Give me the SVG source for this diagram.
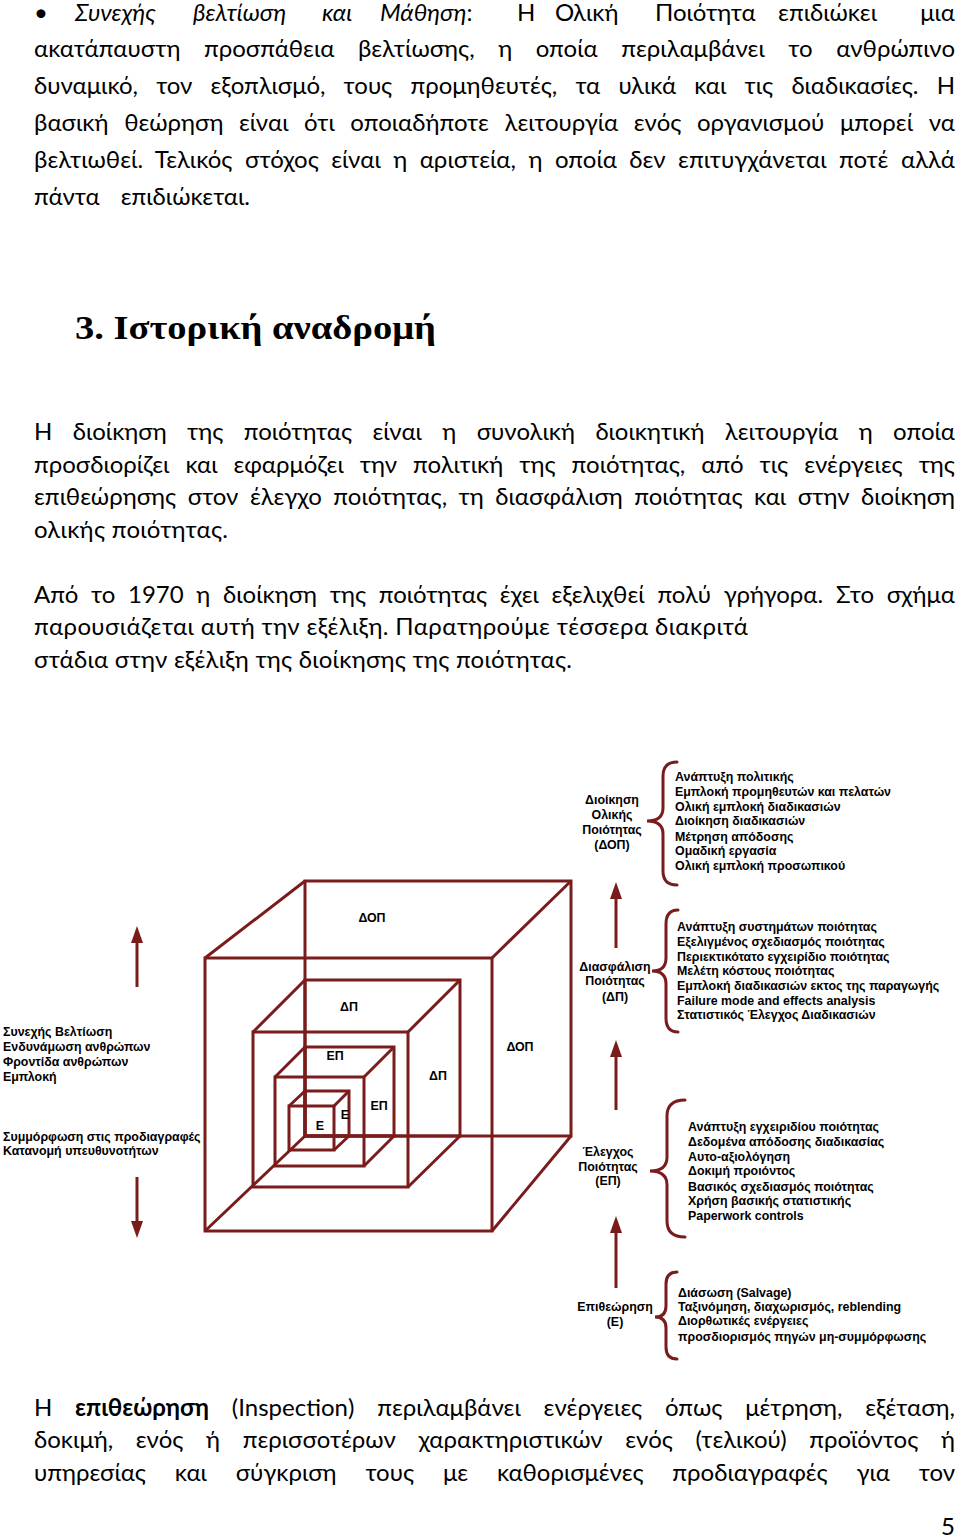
<svg xmlns="http://www.w3.org/2000/svg" width="960" height="1540" viewBox="0 0 960 1540">
<style>
.b{font-family:Lato,"Noto Sans",sans-serif;font-size:24px;fill:#000}
.i{font-style:italic}
.h{font-family:"Liberation Serif",serif;font-weight:bold;font-size:34px;fill:#000}
.d{font-family:"Liberation Sans",Arial,sans-serif;font-weight:bold;font-size:12.4px;fill:#000}
.c{text-anchor:middle}
.ln{fill:none;stroke:#7a1c1c;stroke-width:3;stroke-linejoin:miter}
.br{fill:none;stroke:#7a1c1c;stroke-width:3;stroke-linecap:round}
.ar{stroke:#7a1c1c;stroke-width:3;marker-end:url(#ah)}
</style>
<defs>
<marker id="ah" markerUnits="userSpaceOnUse" markerWidth="18" markerHeight="13" refX="7" refY="6" orient="auto">
<path d="M0,0 L17,6 L0,12 z" fill="#7a1c1c"/>
</marker>
</defs>
<rect width="960" height="1540" fill="#fff"/>

<g id="text-top">
<text class="b" x="34" y="21">•</text>
<text class="b i" x="75" y="21">Συνεχής</text>
<text class="b i" x="193" y="21">βελτίωση</text>
<text class="b i" x="322" y="21">και</text>
<text class="b" x="380" y="21"><tspan class="i">Μάθηση</tspan>:</text>
<text class="b" x="517" y="21">Η</text>
<text class="b" x="555" y="21">Ολική</text>
<text class="b" x="655" y="21">Ποιότητα</text>
<text class="b" x="778" y="21">επιδιώκει</text>
<text class="b" x="955" y="21" text-anchor="end">μια</text>
<text class="b" x="34" y="57" word-spacing="17.4" textLength="921" lengthAdjust="spacing">ακατάπαυστη προσπάθεια βελτίωσης, η οποία περιλαμβάνει το ανθρώπινο</text>
<text class="b" x="34" y="94" word-spacing="12.1" textLength="921" lengthAdjust="spacing">δυναμικό, τον εξοπλισμό, τους προμηθευτές, τα υλικά και τις διαδικασίες. Η</text>
<text class="b" x="34" y="131" word-spacing="9.4" textLength="921" lengthAdjust="spacing">βασική θεώρηση είναι ότι οποιαδήποτε λειτουργία ενός οργανισμού μπορεί να</text>
<text class="b" x="34" y="168" word-spacing="6.3" textLength="921" lengthAdjust="spacing">βελτιωθεί. Τελικός στόχος είναι η αριστεία, η οποία δεν επιτυγχάνεται ποτέ αλλά</text>
<text class="b" x="34" y="205" word-spacing="15" textLength="216" lengthAdjust="spacing">πάντα επιδιώκεται.</text>
</g>

<g id="heading">
<text class="h" x="75" y="339" textLength="361" lengthAdjust="spacingAndGlyphs">3. Ιστορική αναδρομή</text>
</g>

<g id="text-mid">
<text class="b" x="34" y="440" word-spacing="14.3" textLength="921" lengthAdjust="spacing">Η διοίκηση της ποιότητας είναι η συνολική διοικητική λειτουργία η οποία</text>
<text class="b" x="34" y="473" word-spacing="9.9" textLength="921" lengthAdjust="spacing">προσδιορίζει και εφαρμόζει την πολιτική της ποιότητας, από τις ενέργειες της</text>
<text class="b" x="34" y="505" word-spacing="5.4" textLength="921" lengthAdjust="spacing">επιθεώρησης στον έλεγχο ποιότητας, τη διασφάλιση ποιότητας και στην διοίκηση</text>
<text class="b" x="34" y="538" textLength="194" lengthAdjust="spacing">ολικής ποιότητας.</text>
<text class="b" x="34" y="603" word-spacing="6.6" textLength="921" lengthAdjust="spacing">Από το 1970 η διοίκηση της ποιότητας έχει εξελιχθεί πολύ γρήγορα. Στο σχήμα</text>
<text class="b" x="34" y="635" textLength="714" lengthAdjust="spacing">παρουσιάζεται αυτή την εξέλιξη. Παρατηρούμε τέσσερα διακριτά</text>
<text class="b" x="34" y="668" textLength="538" lengthAdjust="spacing">στάδια στην εξέλιξη της διοίκησης της ποιότητας.</text>
</g>

<g id="cubes">
<g id="cube-dop">
<rect class="ln" x="205" y="958" width="287" height="273"/>
<rect class="ln" x="305" y="881" width="266" height="255"/>
<path class="ln" d="M205,958 L305,881 M492,958 L571,881 M492,1231 L571,1136 M205,1231 L305,1136"/>
</g>
<g id="cube-dp">
<rect class="ln" x="253" y="1032" width="155" height="155"/>
<rect class="ln" x="305" y="980" width="155" height="156"/>
<path class="ln" d="M253,1032 L305,980 M408,1032 L460,980 M408,1187 L460,1136"/>
</g>
<g id="cube-ep">
<rect class="ln" x="275" y="1077" width="89" height="89"/>
<rect class="ln" x="305" y="1047" width="89" height="89"/>
<path class="ln" d="M275,1077 L305,1047 M364,1077 L394,1047 M364,1166 L394,1136"/>
</g>
<g id="cube-e">
<rect class="ln" x="289" y="1106" width="45" height="44"/>
<rect class="ln" x="305" y="1091" width="44" height="45"/>
<path class="ln" d="M289,1106 L305,1091 M334,1106 L349,1091 M334,1150 L349,1136"/>
</g>
<g id="cube-labels">
<text class="d c" x="372" y="922">ΔΟΠ</text>
<text class="d c" x="520" y="1051">ΔΟΠ</text>
<text class="d c" x="349" y="1011">ΔΠ</text>
<text class="d c" x="438" y="1080">ΔΠ</text>
<text class="d c" x="335" y="1060">ΕΠ</text>
<text class="d c" x="379" y="1110">ΕΠ</text>
<text class="d c" x="320" y="1130">Ε</text>
<text class="d c" x="345" y="1119">Ε</text>
</g>
</g>

<g id="left-labels">
<text class="d" x="3" y="1036">Συνεχής Βελτίωση</text>
<text class="d" x="3" y="1051">Ενδυνάμωση ανθρώπων</text>
<text class="d" x="3" y="1066">Φροντίδα ανθρώπων</text>
<text class="d" x="3" y="1081">Εμπλοκή</text>
<text class="d" x="3" y="1141">Συμμόρφωση στις προδιαγραφές</text>
<text class="d" x="3" y="1155">Κατανομή υπευθυνοτήτων</text>
</g>

<g id="stage-dop">
<text class="d c" x="612" y="804">Διοίκηση</text>
<text class="d c" x="612" y="819">Ολικής</text>
<text class="d c" x="612" y="834">Ποιότητας</text>
<text class="d c" x="612" y="849">(ΔΟΠ)</text>
<path class="br" d="M677,762 Q663,762 663,776 L663,808 Q663,821 647,821 Q663,821 663,834 L663,871 Q663,885 677,885"/>
<text class="d" x="675" y="781">Ανάπτυξη πολιτικής</text>
<text class="d" x="675" y="796">Εμπλοκή προμηθευτών και πελατών</text>
<text class="d" x="675" y="811">Ολική εμπλοκή διαδικασιών</text>
<text class="d" x="675" y="825">Διοίκηση διαδικασιών</text>
<text class="d" x="675" y="841">Μέτρηση απόδοσης</text>
<text class="d" x="675" y="855">Ομαδική εργασία</text>
<text class="d" x="675" y="870">Ολική εμπλοκή προσωπικού</text>
</g>

<g id="stage-dp">
<text class="d c" x="615" y="971">Διασφάλιση</text>
<text class="d c" x="615" y="985">Ποιότητας</text>
<text class="d c" x="615" y="1001">(ΔΠ)</text>
<path class="br" d="M678,910 Q666,910 666,924 L666,958 Q666,971 652,971 Q666,971 666,984 L666,1018 Q666,1032 678,1032"/>
<text class="d" x="677" y="931">Ανάπτυξη συστημάτων ποιότητας</text>
<text class="d" x="677" y="946">Εξελιγμένος σχεδιασμός ποιότητας</text>
<text class="d" x="677" y="961">Περιεκτικότατο εγχειρίδιο ποιότητας</text>
<text class="d" x="677" y="975">Μελέτη κόστους ποιότητας</text>
<text class="d" x="677" y="990">Εμπλοκή διαδικασιών εκτος της παραγωγής</text>
<text class="d" x="677" y="1005">Failure mode and effects analysis</text>
<text class="d" x="677" y="1019">Στατιστικός Έλεγχος Διαδικασιών</text>
</g>

<g id="stage-ep">
<text class="d c" x="608" y="1156">Έλεγχος</text>
<text class="d c" x="608" y="1171">Ποιότητας</text>
<text class="d c" x="608" y="1185">(ΕΠ)</text>
<path class="br" d="M685,1100 Q667,1100 667,1116 L667,1157 Q667,1171 650,1171 Q667,1171 667,1185 L667,1221 Q667,1237 685,1237"/>
<text class="d" x="688" y="1131">Ανάπτυξη εγχειριδίου ποιότητας</text>
<text class="d" x="688" y="1146">Δεδομένα απόδοσης διαδικασίας</text>
<text class="d" x="688" y="1161">Αυτο-αξιολόγηση</text>
<text class="d" x="688" y="1175">Δοκιμή προιόντος</text>
<text class="d" x="688" y="1191">Βασικός σχεδιασμός ποιότητας</text>
<text class="d" x="688" y="1205">Χρήση βασικής στατιστικής</text>
<text class="d" x="688" y="1220">Paperwork controls</text>
</g>

<g id="stage-e">
<text class="d c" x="615" y="1311">Επιθεώρηση</text>
<text class="d c" x="615" y="1326">(E)</text>
<path class="br" d="M677,1272 Q666,1272 666,1284 L666,1306 Q666,1317 655,1317 Q666,1317 666,1328 L666,1347 Q666,1359 677,1359"/>
<text class="d" x="678" y="1297">Διάσωση (Salvage)</text>
<text class="d" x="678" y="1311">Ταξινόμηση, διαχωρισμός, reblending</text>
<text class="d" x="678" y="1325">Διορθωτικές ενέργειες</text>
<text class="d" x="678" y="1341">προσδιορισμός πηγών μη-συμμόρφωσης</text>
</g>

<g id="connectors">
<line class="ar" x1="137" y1="987" x2="137" y2="936"/>
<line class="ar" x1="137" y1="1177" x2="137" y2="1228"/>
<line class="ar" x1="616" y1="948" x2="616" y2="892"/>
<line class="ar" x1="616" y1="1110" x2="616" y2="1050"/>
<line class="ar" x1="616" y1="1288" x2="616" y2="1226"/>
</g>

<g id="text-bottom">
<text class="b" x="34" y="1416" word-spacing="16.6" textLength="921" lengthAdjust="spacing">Η <tspan font-weight="bold">επιθεώρηση</tspan> (Inspection) περιλαμβάνει ενέργειες όπως μέτρηση, εξέταση,</text>
<text class="b" x="34" y="1448" word-spacing="16.5" textLength="921" lengthAdjust="spacing">δοκιμή, ενός ή περισσοτέρων χαρακτηριστικών ενός (τελικού) προϊόντος ή</text>
<text class="b" x="34" y="1481" word-spacing="22.7" textLength="921" lengthAdjust="spacing">υπηρεσίας και σύγκριση τους με καθορισμένες προδιαγραφές για τον</text>
<text class="b" x="955" y="1535" text-anchor="end">5</text>
</g>
</svg>
